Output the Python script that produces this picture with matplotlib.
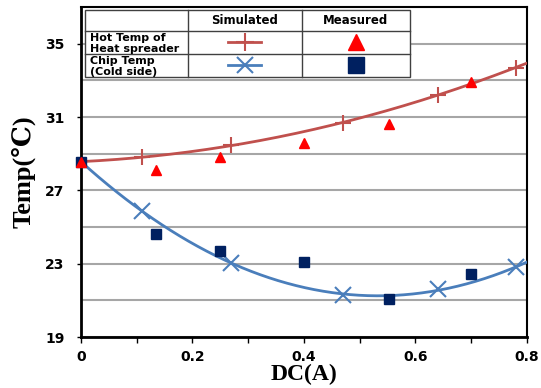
import numpy as np
import matplotlib
matplotlib.use('Agg')
from matplotlib import pyplot as plt
from matplotlib.lines import Line2D

# Werte
sim_x = [0.0, 0.11, 0.27, 0.47, 0.64, 0.78]
hot_sim = [28.57, 28.8, 29.45, 30.7, 32.2, 33.7]
cold_sim = [28.57, 25.85, 23.05, 21.3, 21.6, 22.8]

meas_x = [0.0, 0.135, 0.25, 0.40, 0.553, 0.70]
hot_meas = [28.57, 28.1, 28.8, 29.6, 30.6, 32.9]
cold_meas = [28.57, 24.6, 23.7, 23.1, 21.1, 22.45]

row_labels = ['Hot Temp of\nHeat spreader', 'Chip Temp\n(Cold side)']
col_labels = ['Simulated', 'Measured']

hot_line = '#C0504D'
cold_line = '#4A7EBB'
hot_pt = '#FF0000'
cold_pt = '#002060'

fig = plt.figure(figsize=(5.41, 3.88), dpi=100)
ax = fig.add_axes([0.1497, 0.1314, 0.8243, 0.8505])

# Trendlinien (Polynom 2. Grades)
xx = np.linspace(0, 0.8, 200)
ax.plot(xx, np.polyval(np.polyfit(sim_x, hot_sim, 2), xx), color=hot_line, lw=2, zorder=3)
ax.plot(xx, np.polyval(np.polyfit(sim_x, cold_sim, 2), xx), color=cold_line, lw=2, zorder=3)
ax.plot(sim_x[1:], hot_sim[1:], ls='none', marker='+', ms=12, mew=1.5, color=hot_line, zorder=4)
ax.plot(sim_x[1:], cold_sim[1:], ls='none', marker='x', ms=11, mew=1.5, color=cold_line, zorder=4)

ax.plot(meas_x, cold_meas, ls='none', marker='s', ms=6.5, color=cold_pt, zorder=5, clip_on=False)
ax.plot(meas_x, hot_meas, ls='none', marker='^', ms=7.5, color=hot_pt, zorder=6, clip_on=False)

ax.set_xlim(0, 0.8)
ax.set_ylim(19, 37)
ax.set_xticks([0, 0.2, 0.4, 0.6, 0.8])
ax.set_xticklabels(['0', '0.2', '0.4', '0.6', '0.8'])
ax.set_xticks(np.arange(1, 8, 2) / 10, minor=True)
ax.set_yticks([19, 23, 27, 31, 35])
ax.set_yticks([21, 25, 29, 33], minor=True)
ax.grid(True, axis='y', which='both', color='#A6A6A6', lw=1.5, zorder=1)
ax.set_axisbelow(True)

ax.tick_params(axis='x', which='both', direction='out', length=4, width=1, pad=5)
ax.tick_params(axis='y', which='major', direction='out', length=3, width=1, pad=9)
ax.tick_params(axis='y', which='minor', length=0)
for lab in ax.get_xticklabels() + ax.get_yticklabels():
    lab.set_fontweight('bold')
    lab.set_fontsize(10)
    lab.set_family('DejaVu Sans')

for s in ['left', 'bottom']:
    ax.spines[s].set_linewidth(2)
for s in ['top', 'right']:
    ax.spines[s].set_linewidth(1.5)

ax.set_ylabel('Temp(℃)', family=['Liberation Serif', 'DejaVu Serif'], fontweight='bold',
              fontsize=19, labelpad=7)
ax.set_xlabel('DC(A)', family=['Liberation Serif', 'DejaVu Serif'], fontweight='bold',
              fontsize=17, labelpad=0)

# Legende als Tabelle
cx = [0.009, 0.24, 0.4955, 0.7377]
ry = [0.991, 0.927, 0.858, 0.788]
tr = ax.transAxes
ax.add_patch(plt.Rectangle((cx[0], ry[3]), cx[3] - cx[0], ry[0] - ry[3], transform=tr,
                           facecolor='white', edgecolor='#404040', lw=1, zorder=7))
for x in cx[1:3]:
    ax.add_line(Line2D([x, x], [ry[0], ry[3]], transform=tr, color='#404040', lw=1, zorder=8))
for y in ry[1:3]:
    ax.add_line(Line2D([cx[0], cx[3]], [y, y], transform=tr, color='#404040', lw=1, zorder=8))

for i, t in enumerate(col_labels):
    ax.text((cx[i + 1] + cx[i + 2]) / 2, (ry[0] + ry[1]) / 2, t, transform=tr, ha='center',
            va='center', fontsize=8.5, fontweight='bold', zorder=9)
for j, t in enumerate(row_labels):
    ax.text(cx[0] + 0.012, (ry[j + 1] + ry[j + 2]) / 2 - 0.003, t, transform=tr, ha='left',
            va='center', fontsize=8, fontweight='bold', linespacing=1.1, zorder=9)

mid_sim = (cx[1] + cx[2]) / 2
mid_meas = (cx[2] + cx[3]) / 2
r1 = (ry[1] + ry[2]) / 2
r2 = (ry[2] + ry[3]) / 2
ax.add_line(Line2D([mid_sim - 0.037, mid_sim + 0.037], [r1, r1], transform=tr,
                   color=hot_line, lw=2, zorder=9))
ax.add_line(Line2D([mid_sim], [r1], transform=tr, marker='+', ms=13, mew=1.5,
                   color=hot_line, zorder=9))
ax.add_line(Line2D([mid_sim - 0.037, mid_sim + 0.037], [r2, r2], transform=tr,
                   color=cold_line, lw=2, zorder=9))
ax.add_line(Line2D([mid_sim], [r2], transform=tr, marker='x', ms=11, mew=1.5,
                   color=cold_line, zorder=9))
ax.add_line(Line2D([mid_meas], [r1], transform=tr, marker='^', ms=12, ls='none',
                   color=hot_pt, zorder=9))
ax.add_line(Line2D([mid_meas], [r2], transform=tr, marker='s', ms=11, ls='none',
                   color=cold_pt, zorder=9))

fig.savefig('out.png', dpi=100)
